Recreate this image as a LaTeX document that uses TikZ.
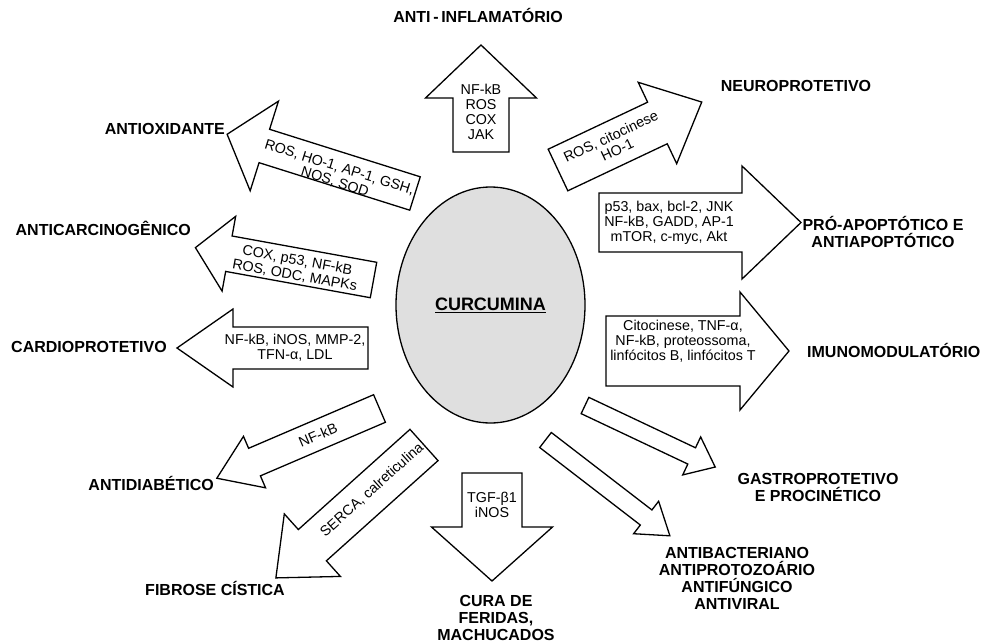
\documentclass[tikz,border=0pt]{standalone}
\usepackage{fontspec}
\setmainfont{Liberation Sans}
\usetikzlibrary{shapes.geometric}
\tikzset{
  arr/.style={draw=black, fill=white, line width=1.3pt, line join=miter},
  intext/.style={font=\fontsize{14.3}{15}\selectfont, align=center, inner sep=0pt},
  lbl/.style={font=\fontsize{16}{17}\selectfont\bfseries, align=center, inner sep=0pt},
  lbl1/.style={lbl, text height=11.5pt, text depth=0pt},
  core/.style={ellipse, draw=black, line width=1.3pt, fill=gray!25, minimum width=189pt, minimum height=236pt, inner sep=0pt, font=\fontsize{18}{20}\selectfont\bfseries}
}
% name, x, y, angle, length, shaft half-width, head half-width, head length
\newcommand{\fatarrow}[8]{%
  \begin{scope}[shift={(#2,#3)}, rotate=#4]
    \draw[arr] (0,#6) coordinate (#1-tail) -- ({#5-#8},#6) -- ({#5-#8},#7) -- (#5,0) coordinate (#1-tip) -- ({#5-#8},-#7) -- ({#5-#8},-#6) -- (0,-#6) -- cycle;
  \end{scope}}
\begin{document}
\begin{tikzpicture}[x=1pt, y=-1pt]
\useasboundingbox (0,0) rectangle (994,642);
\fill[white] (0,0) rectangle (994,642);

\node[core] (cur) at (490.5,305) {\underline{CURCUMINA}};

\fatarrow{up}{481}{152}{90}{107}{28}{55.5}{53}
\fatarrow{neuro}{558}{170}{25.3}{159}{23}{45}{49}
\fatarrow{apop}{599}{222.5}{0}{202}{29.5}{56.5}{59}
\fatarrow{imuno}{606}{351}{0}{183}{35}{59}{49}
\fatarrow{gastro}{585}{405.5}{-25.3}{144}{9}{21}{26}
\fatarrow{bact}{545.5}{440}{-37.6}{157}{9.5}{20.5}{30}
\fatarrow{cura}{492}{473}{-90}{108}{30}{60.5}{54}
\fatarrow{fibrose}{424}{445}{221.9}{199}{21}{42}{49}
\fatarrow{diab}{379.5}{408.5}{203.2}{177}{15}{28}{41}
\fatarrow{cardio}{368}{348}{180}{191}{21}{39}{56}
\fatarrow{carc}{373.5}{280}{169.7}{181}{18}{38}{34}
\fatarrow{antiox}{415}{193.5}{162.5}{197}{17.5}{47}{39}

\node[intext] (t-up) at (481,112) {NF-kB\\ROS\\COX\\JAK};
\node[intext, rotate=25.3] (t-neuro) at (614,143) {ROS, citocinese\\HO-1};
\node[intext] (t-apop) at (669,223) {p53, bax, bcl-2, JNK\\NF-kB, GADD, AP-1\\mTOR, c-myc, Akt};
\node[intext] (t-imuno) at (683,341) {Citocinese, TNF-α,\\NF-kB, proteossoma,\\linfócitos B, linfócitos T};
\node[intext, rotate=-17.5] (t-antiox) at (337,175) {ROS, HO-1, AP-1, GSH,\\NOS, SOD};
\node[intext, rotate=-10.3] (t-carc) at (296,268) {COX, p53, NF-kB\\ROS, ODC, MAPKs};
\node[intext] (t-cardio) at (295,348) {NF-kB, iNOS, MMP-2,\\TFN-α, LDL};
\node[intext, rotate=23.2] (t-diab) at (318,435) {NF-kB};
\node[intext, rotate=41.9] (t-fib) at (372,490) {SERCA, calreticulina};
\node[intext] (t-cura) at (492,505) {TGF-β1\\iNOS};

\node[lbl1] (l-inflam) at (478,17) {ANTI\,-\,INFLAMATÓRIO};
\node[lbl1] (l-neuro) at (796,86) {NEUROPROTETIVO};
\node[lbl1, anchor=east] (l-antiox) at (225,129) {ANTIOXIDANTE};
\node[lbl1, anchor=east] (l-carc) at (191,230) {ANTICARCINOGÊNICO};
\node[lbl1, anchor=east] (l-cardio) at (167,347) {CARDIOPROTETIVO};
\node[lbl1, anchor=east] (l-diab) at (214,485) {ANTIDIABÉTICO};
\node[lbl1, anchor=east] (l-fib) at (285,590) {FIBROSE CÍSTICA};
\node[lbl1, anchor=west] (l-imuno) at (807,352) {IMUNOMODULATÓRIO};
\node[lbl] (l-apop) at (883,232) {PRÓ-APOPTÓTICO E\\ANTIAPOPTÓTICO};
\node[lbl] (l-gastro) at (818,487) {GASTROPROTETIVO\\E PROCINÉTICO};
\node[lbl] (l-bact) at (737,578) {ANTIBACTERIANO\\ANTIPROTOZOÁRIO\\ANTIFÚNGICO\\ANTIVIRAL};
\node[lbl] (l-cura) at (496,618) {CURA DE\\FERIDAS,\\MACHUCADOS};
\end{tikzpicture}
\end{document}
